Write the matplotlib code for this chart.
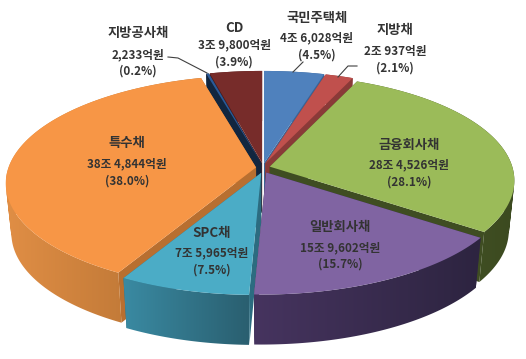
import numpy as np
import matplotlib.pyplot as plt
from matplotlib.colors import to_rgb
from matplotlib.patches import PathPatch
from matplotlib.path import Path

plt.rcParams['font.family'] = ['Noto Sans CJK KR', 'DejaVu Sans']

# 데이터 (시계방향, 12시 방향에서 시작)
names = ["국민주택체", "지방채", "금융회사채", "일반회사채", "SPC채", "특수채", "지방공사채", "CD"]
amounts = ["4조 6,028억원", "2조 937억원", "28조 4,526억원", "15조 9,602억원",
           "7조 5,965억원", "38조 4,844억원", "2,233억원", "3조 9,800억원"]
shares = [4.5, 2.1, 28.1, 15.7, 7.5, 38.0, 0.2, 3.9]

# 색상
top_colors = ["#4F81BD", "#C0504D", "#9BBB59", "#8064A2", "#4BACC6", "#F79646", "#2A5A98", "#772C2A"]
cut_colors = ["#3A6496", "#8A3A38", "#3F4D22", "#35294A", "#2C6C80", "#B86F30", "#12263F", "#4F1C1B"]
wall_left = ["#3A6496", "#8A3A38", "#4A5A28", "#46345F", "#3A8AA2", "#E08E45", "#12263F", "#4F1C1B"]
wall_right = ["#3A6496", "#8A3A38", "#3C4A20", "#2D2440", "#2A5F70", "#B06E30", "#12263F", "#4F1C1B"]

# 위치 (픽셀)
label_x = [317, 395, 409, 340, 212, 127, 138, 234]
label_y = [(18, 38, 55), (30, 51, 68), (145, 165, 182), (227, 248, 264),
           (233, 253, 270), (143, 164, 181), (33, 55, 71), (28, 45, 62)]
leaders = [([303, 293], [62, 72]), ([357, 348, 338], [66, 66, 77]), ([168, 178, 207], [57, 58, 73])]

cx, cy = 263, 168
rx, ry = 245, 105
persp = 0.14
depth = 50
bottom_scale = 0.978
shear = -2.5
ex, ey = 7, 5
draw_order = [0, 7, 6, 1, 5, 2, 4, 3]


def project(theta):
    x = np.sin(theta)
    y = -np.cos(theta)
    f = 1 / (1 - persp * y)
    return rx * x * f + shear * (y + 1), ry * y * f


def lower(px):
    return cx + (px - cx) * bottom_scale


def band_path(xa, ya, xb, yb):
    # 같은 방향으로 감은 사각형들을 모아 옆면 전체 영역을 만든다
    verts, codes = [], []
    for k in range(len(xa) - 1):
        q = [(xa[k], ya[k]), (xa[k + 1], ya[k + 1]), (xb[k + 1], yb[k + 1]), (xb[k], yb[k])]
        qa = np.array(q)
        area = np.sum(qa[:, 0] * np.roll(qa[:, 1], -1) - np.roll(qa[:, 0], -1) * qa[:, 1])
        if area < 0:
            q = q[::-1]
        verts += q + [q[0]]
        codes += [Path.MOVETO, Path.LINETO, Path.LINETO, Path.LINETO, Path.CLOSEPOLY]
    return Path(verts, codes)


fig = plt.figure(figsize=(5.26, 3.59), dpi=100)
ax = fig.add_axes([0, 0, 1, 1])

edges = np.radians(np.cumsum([0] + shares) / sum(shares) * 360)
z = 1

for i in draw_order:
    t0, t1 = edges[i], edges[i + 1]
    mid = (t0 + t1) / 2
    ox = cx + ex * np.sin(mid)
    oy = cy - ey * np.cos(mid)
    th = np.linspace(t0, t1, max(int(np.degrees(t1 - t0) * 2), 2))
    dx, dy = project(th)
    arc_x = ox + dx
    arc_y = oy + dy

    # 절단면
    for k in [0, -1]:
        px = [ox, arc_x[k], lower(arc_x[k]), lower(ox)]
        py = [oy, arc_y[k], arc_y[k] + depth, oy + depth]
        ax.fill(px, py, color=cut_colors[i], lw=0, zorder=z)
        z += 1

    # 옆면 (가로 그라데이션)
    c0, c1 = np.array(to_rgb(wall_left[i])), np.array(to_rgb(wall_right[i]))
    ramp = np.linspace(0, 1, 128)[None, :, None]
    grad = c0[None, None, :] + (c1 - c0)[None, None, :] * ramp
    wall = PathPatch(band_path(arc_x, arc_y, lower(arc_x), arc_y + depth),
                     fc="none", ec="none", transform=ax.transData)
    ax.add_patch(wall)
    im = ax.imshow(grad, extent=(arc_x.min(), arc_x.max(), 359, 0), aspect="auto", zorder=z)
    im.set_clip_path(wall)
    z += 1

    # 윗면
    ax.fill(np.r_[ox, arc_x], np.r_[oy, arc_y], color=top_colors[i], lw=0, zorder=z)
    z += 1

for lx, ly in leaders:
    ax.plot(lx, ly, color="#404040", lw=0.8, zorder=z)

for i in range(len(names)):
    sizes = [9.6, 8.4, 8.4]
    lines = [names[i], amounts[i], f"({shares[i]:.1f}%)"]
    for s, y, fs in zip(lines, label_y[i], sizes):
        ax.text(label_x[i], y, s, ha="center", va="center", fontsize=fs,
                color="#333333", fontweight="bold", zorder=z + 1)

ax.set_xlim(0, 526)
ax.set_ylim(359, 0)
ax.axis("off")

fig.savefig("out.png", dpi=100)
